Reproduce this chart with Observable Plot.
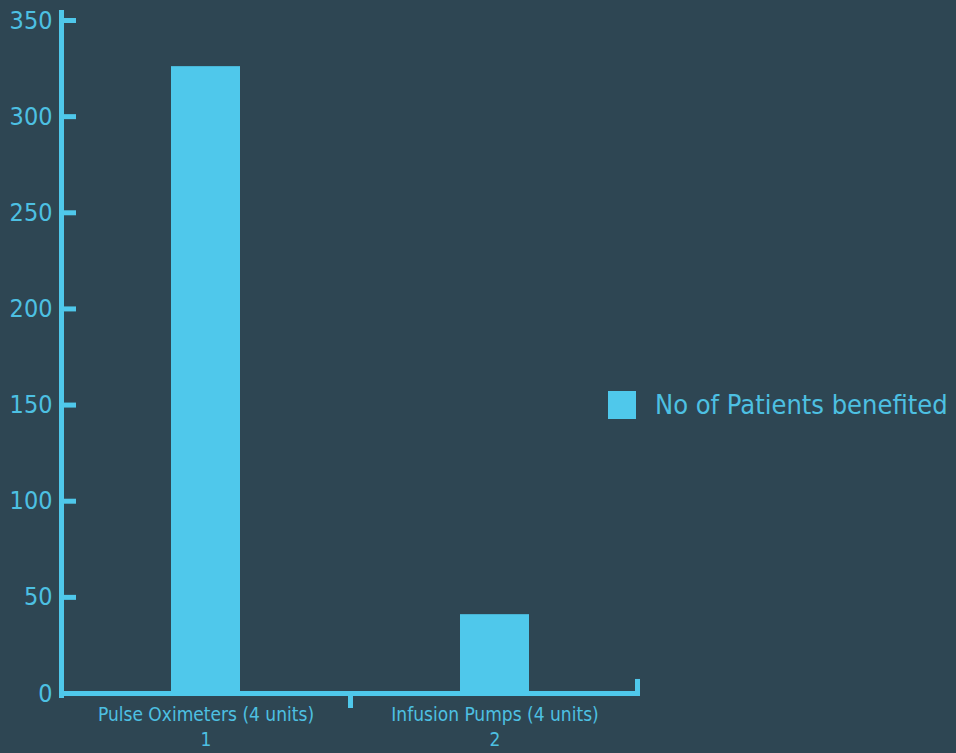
<!DOCTYPE html>
<html>
<head>
<meta charset="utf-8">
<script src="https://cdn.jsdelivr.net/npm/d3@7"></script>
<script src="https://cdn.jsdelivr.net/npm/@observablehq/plot@0.6"></script>
<style>
  html, body { margin: 0; padding: 0; background: #2e4653; }
  #wrap { position: relative; width: 956px; height: 753px; overflow: hidden; }
  #legend { position: absolute; left: 608px; top: 388px; display: flex; align-items: center; white-space: nowrap;
    font-family: "Liberation Sans Narrow", "DejaVu Sans Condensed", sans-serif; font-size: 27px; line-height: 34px; color: #4dc0e2; }
  #legend .sw { width: 28px; height: 28px; background: #4fc8eb; margin-right: 19px; flex: none; }
</style>
</head>
<body>
<div id="wrap"><div id="legend"><div class="sw"></div><span id="legendText"></span></div></div>
<script>
const categories = ["Pulse Oximeters (4 units)", "Infusion Pumps (4 units)"];
const categoryIndex = [1, 2];
const patients = [326, 41];
const seriesName = "No of Patients benefited";
const yTicks = [0, 50, 100, 150, 200, 250, 300, 350];

const barColor = "#4fc8eb";
const textColor = "#4dc0e2";
const font = '"Liberation Sans Narrow", "DejaVu Sans Condensed", sans-serif';

const data = categories.map((c, i) => ({name: c, idx: categoryIndex[i], value: patients[i]}));

document.getElementById("legendText").textContent = seriesName;

const chart = Plot.plot({
  width: 956,
  height: 753,
  marginLeft: 61,
  marginRight: 317,
  marginTop: 20,
  marginBottom: 60,
  style: {background: "#2e4653", fontFamily: font, color: textColor, overflow: "visible"},
  x: {domain: [0.5, 2.5], axis: null},
  y: {domain: [0, 350], axis: null},
  marks: [
    Plot.rectY(data, {x1: d => d.idx - 0.5, x2: d => d.idx + 0.5, y: "value", fill: barColor, insetLeft: 110, insetRight: 110}),
    Plot.frame({anchor: "left", stroke: barColor, strokeWidth: 5, insetTop: -8, insetBottom: -2}),
    Plot.ruleY([0], {stroke: barColor, strokeWidth: 5, insetLeft: -2, insetRight: -1}),
    Plot.ruleX([1.5], {y1: 0, y2: -7.8, stroke: barColor, strokeWidth: 5}),
    Plot.ruleX([2.5], {y1: 0, y2: 7.3, stroke: barColor, strokeWidth: 5, dx: -2}),
    Plot.axisY({ticks: yTicks, tickSize: 15, dx: 15, text: null, label: null, stroke: barColor, strokeWidth: 5}),
    Plot.axisY({ticks: yTicks, tickSize: 0, tickPadding: 9, label: null, fontSize: 25, fill: textColor}),
    Plot.axisX({ticks: categoryIndex, tickSize: 0, tickPadding: 10, label: null, fontSize: 19, lineHeight: 1.3,
      fill: textColor, tickFormat: i => categories[i - 1] + "\n" + i})
  ]
});
document.getElementById("wrap").prepend(chart);
</script>
</body>
</html>
